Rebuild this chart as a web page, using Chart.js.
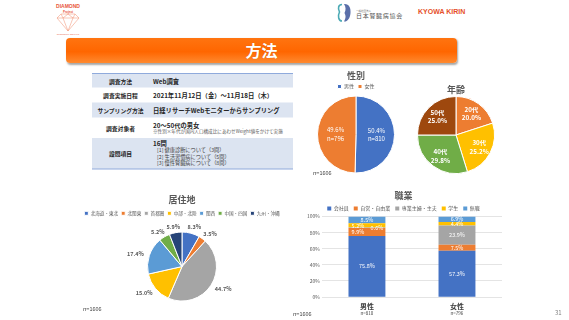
<!DOCTYPE html>
<html>
<head>
<meta charset="utf-8">
<script src="https://cdn.jsdelivr.net/npm/chart.js@4.4.1/dist/chart.umd.min.js"></script>
<style>
  body { margin: 0; background: #fff; font-family: "Noto Sans CJK JP", "Noto Sans", sans-serif; }
  #slide { position: relative; width: 569px; height: 320px; overflow: hidden; background: #fff; }
  .abs { position: absolute; }
  .half { transform: scale(0.5); transform-origin: 0 0; white-space: nowrap; }
  canvas { position: absolute; }
  #banner {
    left: 66px; top: 38px; width: 391px; height: 25px; border-radius: 4px;
    background: linear-gradient(to bottom, #ff7410 0%, #ff6600 55%, #ff8a30 100%);
    box-shadow: 1px 1.5px 2px rgba(0,0,0,0.35);
    color: #fff; font-weight: bold; font-size: 16px; text-align: center; line-height: 25px;
    text-shadow: 0 0 1px rgba(0,0,0,0.2);
  }
  /* table drawn at 2x and scaled down so tiny text keeps its size */
  #tbl { left: 92px; top: 73px; width: 402px; border-collapse: collapse; border-top: 2px solid #8faadc; border-bottom: 2px solid #8faadc; }
  #tbl td { padding: 0; vertical-align: middle; color: #262626; }
  #tbl tr.sh td { background: #dce4f1; }
  #tbl td.k { width: 114px; text-align: center; font-weight: bold; font-size: 11.6px; }
  #tbl td.v { padding-left: 8px; font-weight: bold; font-size: 12.6px; line-height: 13px; }
  .note { font-weight: normal; font-size: 9.2px; color: #595959; line-height: 12px; }
  .item { font-weight: normal; font-size: 10.4px; color: #404040; line-height: 12.8px; padding-left: 8px; }
  .n { font-size: 11px; color: #404040; }
</style>
</head>
<body>
<div id="slide">
  <!-- logos -->
  <svg class="abs" style="left:50px;top:2px" width="36" height="36" viewBox="0 0 36 36">
    <text x="18" y="6" text-anchor="middle" font-size="5" font-weight="bold" fill="#e8563a" font-family="Liberation Sans">DIAMOND</text>
    <text x="18" y="10.5" text-anchor="middle" font-size="3" font-weight="bold" fill="#e8563a" font-family="Liberation Sans">Project</text>
    <g fill="none" stroke="#f08c6c" stroke-width="0.5">
      <polygon points="7,16 11,12 25,12 29,16 18,29"/>
      <line x1="7" y1="16" x2="29" y2="16"/>
      <polyline points="11,12 13,16 18,12 23,16 25,12"/>
      <polyline points="13,16 18,29 23,16"/>
    </g>
    <text x="18" y="33" text-anchor="middle" font-size="1.8" fill="#e8563a" font-family="Liberation Sans">Collaborated by JSN &amp; KKC</text>
  </svg>
  <svg class="abs" style="left:337px;top:3px" width="15" height="20" viewBox="0 0 15 20">
    <path d="M5,1.5 C1.5,1.5 0.5,5 2.5,9 C0.5,13 1.5,18 5,18" stroke="#4baab5" stroke-width="1.6" fill="none"/>
    <path d="M7,1 C12,0.5 14,5 13.5,10 C13,16 10,19 7,18.5 C9,15 9,13 7.5,10 C9,7 9,4 7,1 Z" fill="#5b6fa9"/>
  </svg>
  <div class="abs half" style="left:356px;top:8.5px;font-size:5px;color:#666">一般社団法人</div>
  <div class="abs half" style="left:356px;top:11px;font-size:12px;color:#555;letter-spacing:1.4px">日本腎臓病協会</div>
  <div class="abs" style="left:418px;top:8px;font-size:7px;font-weight:bold;color:#e5502a;font-family:'Liberation Sans'">KYOWA KIRIN</div>

  <div id="banner" class="abs">方法</div>

  <table id="tbl" class="abs half">
    <tr class="sh" style="height:28px"><td class="k">調査方法</td><td class="v">Web調査</td></tr>
    <tr style="height:30px"><td class="k">調査実施日程</td><td class="v">2021年11月12日（金）～11月18日（木）</td></tr>
    <tr class="sh" style="height:30px"><td class="k">サンプリング方法</td><td class="v">日経リサーチWebモニターからサンプリング</td></tr>
    <tr style="height:41px"><td class="k">調査対象者</td><td class="v">20～50代の男女<div class="note">※性別×年代が国内人口構成比にあわせWeight値をかけて実施</div></td></tr>
    <tr class="sh" style="height:62px"><td class="k">設問項目</td><td class="v"><div style="line-height:14px">16問</div><div class="item">[1] 健康診断について（3問）</div><div class="item">[2] 生活習慣病について（5問）</div><div class="item">[3] 慢性腎臓病について（8問）</div></td></tr>
  </table>

  <canvas id="gender" width="112" height="110" style="left:300px;top:70.5px"></canvas>
  <canvas id="age" width="112" height="95" style="left:400px;top:84.5px"></canvas>
  <canvas id="region" width="284" height="125" style="left:40px;top:195px"></canvas>
  <canvas id="job" width="279" height="130" style="left:290px;top:190.5px"></canvas>

  <div class="abs half n" style="left:313px;top:168px">n=1606</div>
  <div class="abs half n" style="left:83px;top:304px">n=1606</div>
  <div class="abs half n" style="left:293px;top:308.5px">n=1606</div>
  <div class="abs half" style="left:555px;top:308px;font-size:12px;color:#7f7f7f">31</div>
</div>

<script>
const FONT = '"Noto Sans CJK JP", "Noto Sans", sans-serif';

const genderLabels = ['男性', '女性'];
const genderValues = [50.4, 49.6];
const genderCounts = ['n=810', 'n=796'];

const ageLabels = ['20代', '30代', '40代', '50代'];
const ageValues = [20.0, 25.2, 29.8, 25.0];

const regionLabels = ['北海道・東北', '北関東', '首都圏', '中部・北陸', '関西', '中国・四国', '九州・沖縄'];
const regionValues = [8.3, 3.5, 44.7, 15.0, 17.4, 5.2, 5.9];

const jobCategories = ['男性', '女性'];
const jobCounts = ['n=810', 'n=796'];
const jobLabels = ['会社員', '自営・自由業', '専業主婦・主夫', '学生', '無職'];
const jobMale = [75.8, 9.9, 0.6, 5.2, 8.5];
const jobFemale = [57.3, 7.5, 23.9, 4.4, 6.9];

Chart.defaults.font.family = FONT;
Chart.defaults.color = '#595959';

// text inside / around pie slices
const sliceLabels = {
  id: 'sliceLabels',
  afterDatasetsDraw(chart, args, opts) {
    const ds = chart.data.datasets[0];
    if (!ds.labelLines) return;
    const ctx = chart.ctx;
    ctx.save();
    ctx.font = (opts.weight || 'normal') + ' ' + opts.size + 'px ' + FONT;
    ctx.fillStyle = opts.color;
    ctx.textAlign = 'center';
    ctx.textBaseline = 'middle';
    chart.getDatasetMeta(0).data.forEach((arc, i) => {
      const p = arc.getProps(['x', 'y', 'startAngle', 'endAngle', 'outerRadius'], true);
      const mid = (p.startAngle + p.endAngle) / 2;
      const dx = Math.cos(mid), dy = Math.sin(mid);
      const lines = ds.labelLines[i];
      const w = Math.max(...lines.map(t => ctx.measureText(t).width));
      const px = p.x + dx * p.outerRadius * opts.factor + (opts.outside ? dx * w / 2 : 0);
      const py = p.y + dy * p.outerRadius * opts.factor;
      lines.forEach((t, k) => ctx.fillText(t, px, py + (k - (lines.length - 1) / 2) * opts.lineHeight));
    });
    ctx.restore();
  }
};

// value labels on the stacked bars
const barLabels = {
  id: 'barLabels',
  afterDatasetsDraw(chart, args, opts) {
    const ctx = chart.ctx;
    ctx.save();
    ctx.font = opts.size + 'px ' + FONT;
    ctx.fillStyle = opts.color;
    ctx.textAlign = 'center';
    ctx.textBaseline = 'middle';
    chart.data.datasets.forEach((ds, d) => {
      chart.getDatasetMeta(d).data.forEach((bar, i) => {
        const shift = ds.labelShift ? ds.labelShift[i] : 0;
        ctx.fillText(ds.data[i].toFixed(1) + '%', bar.x + shift, (bar.y + bar.base) / 2);
      });
    });
    ctx.restore();
  }
};

// two-line category labels under the bars (different sizes)
const catLabels = {
  id: 'catLabels',
  afterDraw(chart) {
    const ctx = chart.ctx, xs = chart.scales.x, bottom = chart.chartArea.bottom;
    ctx.save();
    ctx.textAlign = 'center';
    ctx.textBaseline = 'middle';
    ctx.fillStyle = '#404040';
    jobCategories.forEach((c, i) => {
      const px = xs.getPixelForValue(i);
      ctx.font = 'bold 7px ' + FONT;
      ctx.fillText(c, px, bottom + 9);
      ctx.font = '4.5px ' + FONT;
      ctx.fillText(jobCounts[i], px, bottom + 16);
    });
    ctx.restore();
  }
};

const titleOpts = (text, bottom) => ({
  display: true, text: text, color: '#595959',
  font: { size: 9, weight: 'bold', lineHeight: 1 },
  padding: { top: 0, bottom: bottom }
});

new Chart(document.getElementById('gender'), {
  type: 'pie',
  data: {
    labels: genderLabels,
    datasets: [{
      data: genderValues,
      backgroundColor: ['#4472C4', '#ED7D31'],
      borderColor: '#fff', borderWidth: 1, radius: 38.5,
      labelLines: genderValues.map((v, i) => [v.toFixed(1) + '%', genderCounts[i]])
    }]
  },
  options: {
    responsive: false, animation: false,
    layout: { padding: { bottom: 11 } },
    plugins: {
      title: titleOpts('性別', 0),
      legend: { labels: { boxWidth: 4, boxHeight: 4, padding: 4, font: { size: 5 } } },
      tooltip: { enabled: false },
      sliceLabels: { factor: 0.53, size: 6, color: '#fff', lineHeight: 8.5 }
    }
  },
  plugins: [sliceLabels]
});

new Chart(document.getElementById('age'), {
  type: 'pie',
  data: {
    labels: ageLabels,
    datasets: [{
      data: ageValues,
      backgroundColor: ['#ED7D31', '#FFC000', '#70AD47', '#9E480E'],
      borderColor: '#fff', borderWidth: 1, radius: 38.5,
      labelLines: ageValues.map((v, i) => [ageLabels[i], v.toFixed(1) + '%'])
    }]
  },
  options: {
    responsive: false, animation: false,
    layout: { padding: { bottom: 6 } },
    plugins: {
      title: titleOpts('年齢', 2),
      legend: { display: false },
      tooltip: { enabled: false },
      sliceLabels: { factor: 0.68, size: 6.3, weight: 'bold', color: '#fff', lineHeight: 8.5 }
    }
  },
  plugins: [sliceLabels]
});

new Chart(document.getElementById('region'), {
  type: 'pie',
  data: {
    labels: regionLabels,
    datasets: [{
      data: regionValues,
      backgroundColor: ['#4472C4', '#ED7D31', '#A5A5A5', '#FFC000', '#5B9BD5', '#70AD47', '#264478'],
      borderColor: '#fff', borderWidth: 1, radius: 34.5,
      labelLines: regionValues.map(v => [v.toFixed(1) + '%'])
    }]
  },
  options: {
    responsive: false, animation: false,
    layout: { padding: { bottom: 12.5 } },
    plugins: {
      title: titleOpts('居住地', 4),
      legend: { labels: { boxWidth: 4, boxHeight: 4, padding: 3, font: { size: 4.6 } } },
      tooltip: { enabled: false },
      sliceLabels: { factor: 1.18, outside: true, size: 5.5, weight: 'bold', color: '#595959', lineHeight: 7 }
    }
  },
  plugins: [sliceLabels]
});

const jobColors = ['#4472C4', '#ED7D31', '#A5A5A5', '#FFC000', '#5B9BD5'];
// small sideways nudges where labels of thin segments collide
const jobShift = [[0, 0], [-9, 0], [10, 0], [-9, 0], [0, 0]];

new Chart(document.getElementById('job'), {
  type: 'bar',
  data: {
    labels: jobCategories,
    datasets: jobLabels.map((name, k) => ({
      label: name,
      data: [jobMale[k], jobFemale[k]],
      backgroundColor: jobColors[k],
      barPercentage: 0.41, categoryPercentage: 1,
      labelShift: jobShift[k]
    }))
  },
  options: {
    responsive: false, animation: false,
    layout: { padding: { left: 15, right: 67, bottom: 24 } },
    scales: {
      x: { stacked: true, display: false },
      y: {
        stacked: true, min: 0, max: 100,
        ticks: { stepSize: 10, padding: 2, font: { size: 5 }, color: '#595959', callback: v => v + '%' },
        grid: { color: '#d9d9d9', lineWidth: 0.7, drawTicks: false },
        border: { display: false }
      }
    },
    plugins: {
      title: titleOpts('職業', 1),
      legend: { maxHeight: 15.5, labels: { boxWidth: 4, boxHeight: 4, padding: 5, font: { size: 5 } } },
      tooltip: { enabled: false },
      barLabels: { size: 5.5, color: '#fff' }
    }
  },
  plugins: [barLabels, catLabels]
});
</script>
</body>
</html>
